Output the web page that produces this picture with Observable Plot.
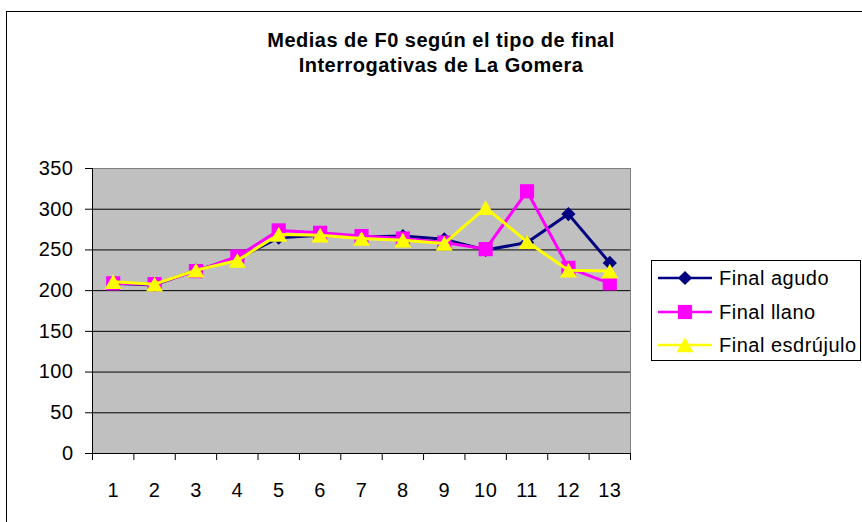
<!DOCTYPE html>
<html>
<head>
<meta charset="utf-8">
<script src="https://cdn.jsdelivr.net/npm/d3@7"></script>
<script src="https://cdn.jsdelivr.net/npm/@observablehq/plot@0.6"></script>
<style>
  html, body { margin: 0; padding: 0; background: #fff; overflow: hidden; }
  #wrap { position: relative; width: 862px; height: 522px; font-family: Arial, "Liberation Sans", sans-serif; color: #000; }
  #border { position: absolute; left: 6px; top: 11px; width: 1000px; height: 1000px; border: 1px solid #000; box-sizing: border-box; }
  #chart { position: absolute; left: 0; top: 0; }
  #title { position: absolute; left: 0; top: 28px; width: 882px; text-align: center; font-weight: bold; font-size: 20px; letter-spacing: 0.5px; line-height: 25px; }
  #legend { position: absolute; left: 651px; top: 260px; width: 210px; height: 101px; border: 1px solid #000; box-sizing: border-box; background: #fff; }
</style>
</head>
<body>
<div id="wrap">
  <div id="border"></div>
  <div id="chart"></div>
  <div id="title"><div>Medias de F0 según el tipo de final</div><div>Interrogativas de La Gomera</div></div>
  <div id="legend"></div>
</div>
<script>
// ---- data ----
const categories = ["1", "2", "3", "4", "5", "6", "7", "8", "9", "10", "11", "12", "13"];
const finalAgudo = [209, 207, 225, 239, 265, 268, 266, 267, 263, 250, 259, 294, 234];
const finalLlano = [209, 208, 224, 242, 274, 271, 267, 264, 259, 251, 322, 228, 209];
const finalEsdrujulo = [211, 208, 225, 237, 269, 268, 264, 262, 258, 302, 260, 225, 224];
const seriesNames = ["Final agudo", "Final llano", "Final esdrújulo"];
const yTicks = [0, 50, 100, 150, 200, 250, 300, 350];

// ---- styles ----
const seriesColors = ["#000080", "#FF00FF", "#FFFF00"];
const seriesSymbols = ["diamond2", "square", "triangle"];
const seriesR = [6.4, 8.0, 6.3];
const seriesDy = [0, 0, 2.4];

const allSeries = [finalAgudo, finalLlano, finalEsdrujulo];
const rows = [];
allSeries.forEach((vals, s) => vals.forEach((v, i) => rows.push({series: seriesNames[s], x: i + 1, cat: categories[i], v})));

const boundaries = d3.range(categories.length + 1).map(i => i + 0.5);
const catPositions = categories.map((c, i) => i + 1);

const seriesMarks = [];
seriesNames.forEach((name, s) => {
  const d = rows.filter(r => r.series === name);
  seriesMarks.push(Plot.line(d, {x: "x", y: "v", stroke: seriesColors[s], strokeWidth: 3}));
  seriesMarks.push(Plot.dot(d, {x: "x", y: "v", symbol: seriesSymbols[s], r: seriesR[s], fill: seriesColors[s], stroke: "none", dy: seriesDy[s]}));
});

const chart = Plot.plot({
  width: 862,
  height: 522,
  marginLeft: 92,
  marginRight: 232,
  marginTop: 168,
  marginBottom: 69,
  style: {fontFamily: "Arial, 'Liberation Sans', sans-serif", fontSize: "20px", color: "#000", background: "transparent", letterSpacing: "0.5px", overflow: "visible"},
  x: {type: "linear", domain: [0.5, categories.length + 0.5]},
  y: {domain: [0, 350]},
  marks: [
    Plot.frame({fill: "#c0c0c0", stroke: "#808080"}),
    Plot.ruleY(yTicks.filter(t => t > 0 && t < 350), {stroke: "#000", strokeWidth: 1}),
    Plot.axisY({ticks: yTicks, tickSize: 7, tickPadding: 12, label: null, tickFormat: d => String(d)}),
    Plot.axisX({ticks: boundaries, tickSize: 7, tickFormat: () => "", label: null}),
    Plot.axisX({ticks: catPositions, tickSize: 0, tickPadding: 29, label: null, tickFormat: d => categories[d - 1]}),
    Plot.ruleX([0.5], {stroke: "#000"}),
    Plot.ruleY([0], {stroke: "#000"}),
    ...seriesMarks
  ]
});
document.getElementById("chart").appendChild(chart);

// ---- legend ----
const lg = d3.select("#legend").append("svg").attr("width", 208).attr("height", 99)
  .style("position", "absolute").style("left", "0px").style("top", "0px");
const rowY = [17, 51, 84];
seriesNames.forEach((name, s) => {
  const g = lg.append("g").attr("transform", `translate(0,${rowY[s]})`);
  g.append("line").attr("x1", 6).attr("x2", 60).attr("y1", 0).attr("y2", 0)
    .attr("stroke", seriesColors[s]).attr("stroke-width", 2.5);
  const sym = {diamond2: d3.symbolDiamond2, square: d3.symbolSquare, triangle: d3.symbolTriangle}[seriesSymbols[s]];
  g.append("path").attr("d", d3.symbol(sym, Math.PI * seriesR[s] * seriesR[s])())
    .attr("transform", `translate(33,${seriesDy[s]})`).attr("fill", seriesColors[s]);
  g.append("text").attr("x", 67).attr("y", 0).attr("dy", "0.35em")
    .attr("font-family", "Arial, 'Liberation Sans', sans-serif").attr("font-size", 20)
    .style("letter-spacing", "0.5px").text(name);
});
</script>
</body>
</html>
